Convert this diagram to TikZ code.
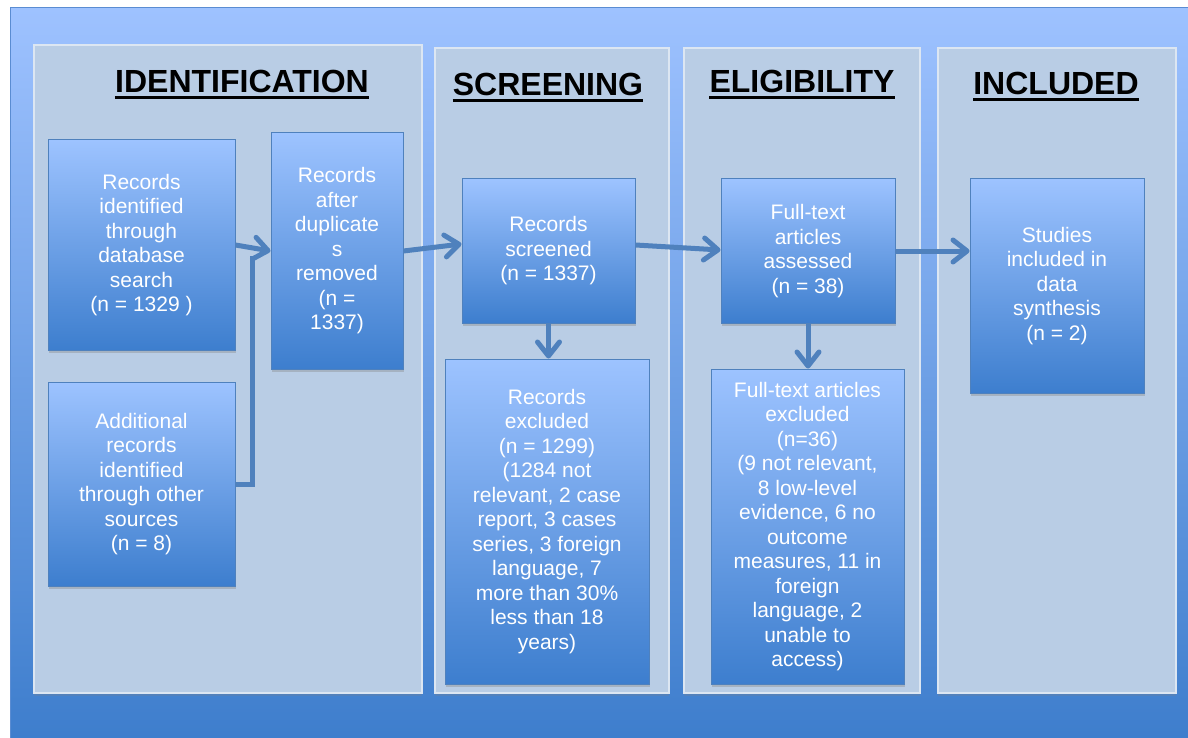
\documentclass[tikz,border=0pt]{standalone}
\usepackage{fontspec}
\setmainfont{Liberation Sans}
\usetikzlibrary{arrows.meta,shadows}
\definecolor{bgtop}{HTML}{9EC2FF}
\definecolor{bgbot}{HTML}{3D7DCC}
\definecolor{bgline}{HTML}{5A8CD2}
\definecolor{panelfill}{HTML}{B9CDE5}
\definecolor{panelline}{HTML}{DCE6F2}
\definecolor{boxtop}{HTML}{9DC3FF}
\definecolor{boxbot}{HTML}{3D7ECE}
\definecolor{boxline}{HTML}{4F81BD}
\definecolor{arrowc}{HTML}{4F81BD}
\begin{document}
\begin{tikzpicture}[x=1pt,y=-1pt,
  panel/.style={draw=panelline, line width=1.5pt, fill=panelfill,
    drop shadow={shadow xshift=0pt, shadow yshift=-2.5pt, opacity=0.25}},
  box/.style={draw=boxline, line width=1pt, top color=boxtop, bottom color=boxbot,
    text=white, align=center, inner sep=0pt,
    font=\fontsize{21}{24.5}\selectfont,
    drop shadow={shadow xshift=1pt, shadow yshift=-3pt, opacity=0.35}},
  titlebox/.style={font=\fontsize{32}{38}\selectfont\bfseries, inner sep=0pt, anchor=base},
  uline/.style={line width=2.6pt},
  arr/.style={draw=arrowc, line width=5pt, -{Straight Barb[length=14pt,width=22pt,round]}},
  conn/.style={draw=arrowc, line width=5pt}]
\useasboundingbox (0,0) rectangle (1188,738);
\fill[white] (0,0) rectangle (1188,738);
% background
\fill[top color=bgtop, bottom color=bgbot] (10,8) rectangle (1196,746);
\draw[bgline, line width=1pt] (10,746) -- (10,8) -- (1196,8);
% panels
\draw[panel] (34,45) rectangle (422,693);
\draw[panel] (435,48) rectangle (669,693);
\draw[panel] (684,48) rectangle (920,693);
\draw[panel] (938,48) rectangle (1176,693);
% titles
\node[titlebox] (t1) at (242,93) {IDENTIFICATION};
\node[titlebox] (t2) at (548,96) {SCREENING};
\node[titlebox] (t3) at (802,93) {ELIGIBILITY};
\node[titlebox] (t4) at (1056,95) {INCLUDED};
\foreach \t in {t1,t2,t3,t4}
  \draw[uline] ([yshift=-4.7pt]\t.base west) -- ([yshift=-4.7pt]\t.base east);
% boxes
\node[box, minimum width=187pt, minimum height=210pt] (A) at (141.5,245)
  {Records\\identified\\through\\database\\search\\(n = 1329 )};
\node[box, minimum width=132pt, minimum height=236pt] (B) at (337,251)
  {Records\\after\\duplicate\\s\\removed\\(n =\\1337)};
\node[box, minimum width=187pt, minimum height=204pt] (C) at (141.5,484)
  {Additional\\records\\identified\\through other\\sources\\(n = 8)};
\node[box, minimum width=173pt, minimum height=144pt] (D) at (548.5,251)
  {Records\\screened\\(n = 1337)};
\node[box, minimum width=174pt, minimum height=144pt] (E) at (808,251)
  {Full-text\\articles\\assessed\\(n = 38)};
\node[box, minimum width=174pt, minimum height=214pt] (F) at (1057,286)
  {Studies\\included in\\data\\synthesis\\(n = 2)};
\node[box, minimum width=204pt, minimum height=325pt] (G) at (547,521.5)
  {Records\\excluded\\(n = 1299)\\(1284 not\\relevant, 2 case\\report, 3 cases\\series, 3 foreign\\language, 7\\more than 30\%\\less than 18\\years)};
\node[box, minimum width=193pt, minimum height=315pt] (H) at (807.5,526.5)
  {Full-text articles\\excluded\\(n=36)\\(9 not relevant,\\8 low-level\\evidence, 6 no\\outcome\\measures, 11 in\\foreign\\language, 2\\unable to\\access)};
% connectors
\coordinate (jn) at (252,256);
\draw[conn] (C.east) -| (jn);
\draw[arr] (A.east) -- (B.west);
\draw[arr] (B.east) -- ([yshift=7pt]D.west);
\draw[arr] ([yshift=6pt]D.east) -- ([yshift=1pt]E.west);
\draw[arr] (E.east) -- (E.east -| F.west);
\draw[arr] (D.south) -- (D.south |- G.north);
\draw[arr] (E.south) -- (E.south |- H.north);
\end{tikzpicture}
\end{document}
